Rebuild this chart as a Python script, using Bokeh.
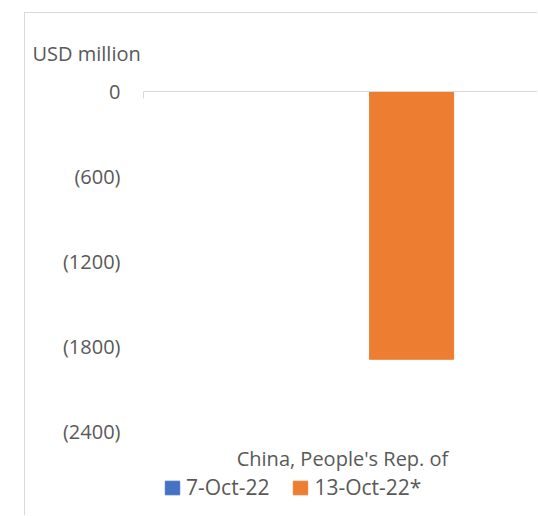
from bokeh.plotting import figure
from bokeh.models import (Range1d, FixedTicker, Title, Label, Legend, LegendItem,
                          ColumnDataSource, CustomJSTickFormatter)
from bokeh.embed import file_html
from bokeh.resources import INLINE

# ---- data ----
categories = ["China, People's Rep. of"]
series_names = ["7-Oct-22", "13-Oct-22*"]
values_7oct = [0]
values_13oct = [-1890]
y_ticks = [0, -600, -1200, -1800, -2400]
y_tick_labels = ["0", "(600)", "(1200)", "(1800)", "(2400)"]
y_axis_title = "USD million"
colors = ["#4472C4", "#ED7D31"]

# ---- style ----
FONT = "Open Sans"
TXT = "#595959"
LINE = "#d9d9d9"
FS = "20px"

cat_x = list(range(len(categories)))
bar_w = 1.0
x_start, x_end = -2.69, 2.01
y_view_min = -3000  # plot area continues below the lowest tick to hold category label + legend

p = figure(width=513, height=503, output_backend="svg", toolbar_location=None,
           x_range=Range1d(x_start, x_end), y_range=Range1d(y_view_min, max(y_ticks)),
           x_axis_location="above", title=None,
           min_border_left=118, min_border_right=0, min_border_top=78, min_border_bottom=0)
p.styles = {"margin-left": "24px", "margin-top": "12px",
            "border-left": "1px solid " + LINE, "border-top": "1px solid " + LINE}
p.outline_line_color = None
p.grid.visible = False
p.background_fill_color = "white"
p.border_fill_color = "white"

src1 = ColumnDataSource(dict(x=[c - bar_w / 2 for c in cat_x], top=values_7oct))
src2 = ColumnDataSource(dict(x=[c + bar_w / 2 for c in cat_x], top=values_13oct))
r1 = p.vbar(x="x", top="top", bottom=0, width=bar_w, color=colors[0], source=src1)
r2 = p.vbar(x="x", top="top", bottom=0, width=bar_w, color=colors[1], source=src2)

# category axis (at zero, top)
xa = p.xaxis[0]
xa.ticker = FixedTicker(ticks=[x_start])
xa.formatter = CustomJSTickFormatter(code="return ''")
xa.axis_line_color = LINE
xa.axis_line_width = 1
xa.major_tick_line_color = LINE
xa.major_tick_in = 7
xa.major_tick_out = 0
xa.major_label_standoff = 0
xa.minor_tick_line_color = None

# value axis
ya = p.yaxis[0]
ya.ticker = FixedTicker(ticks=y_ticks)
ya.major_label_overrides = {t: l for t, l in zip(y_ticks, y_tick_labels)}
ya.axis_line_color = None
ya.major_tick_line_color = None
ya.minor_tick_line_color = None
ya.major_tick_in = 0
ya.major_tick_out = 0
ya.major_label_standoff = 23
ya.major_label_text_font = FONT
ya.major_label_text_font_size = FS
ya.major_label_text_color = TXT

# axis title (top-left)
p.add_layout(Title(text=y_axis_title, align="left", offset=-111, standoff=46,
                   vertical_align="top",
                   text_font=FONT, text_font_size=FS, text_color=TXT,
                   text_font_style="normal"), "above")

# category label (low position, below the value range)
p.add_layout(Label(x=199, y=58, x_units="screen", y_units="screen", text=categories[0],
                   text_font=FONT, text_font_size=FS, text_color=TXT,
                   text_baseline="alphabetic", text_align="center"))

legend = Legend(items=[LegendItem(label=series_names[0], renderers=[r1]),
                       LegendItem(label=series_names[1], renderers=[r2])],
                orientation="horizontal", location=(20, 15),
                glyph_width=18, glyph_height=17, label_standoff=5, spacing=22,
                padding=0, margin=0, border_line_color=None, background_fill_alpha=0,
                label_text_font=FONT, label_text_font_size="21px", label_text_color=TXT)
p.add_layout(legend, "center")

open("out.html", "w").write(file_html(p, INLINE))
